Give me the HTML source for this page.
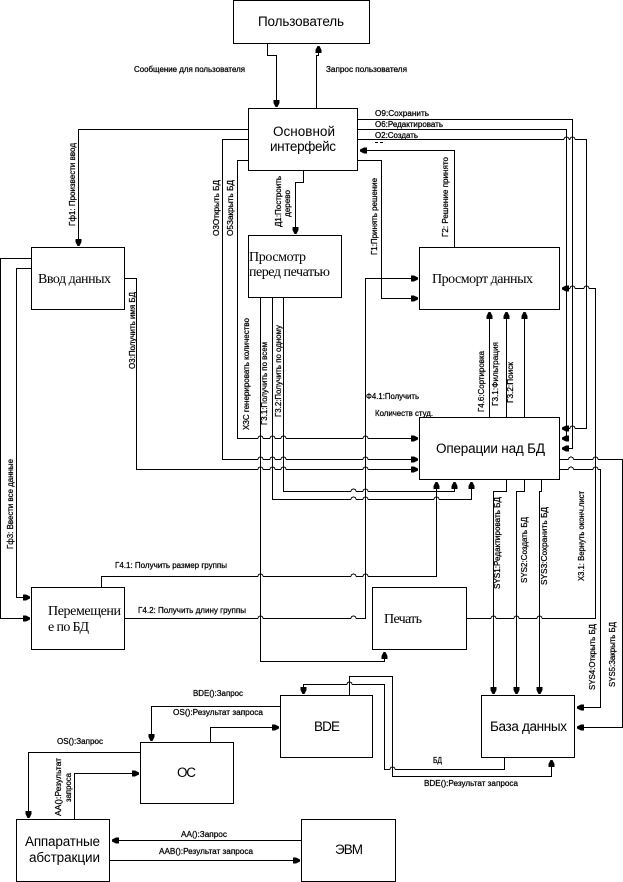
<!DOCTYPE html>
<html><head><meta charset="utf-8"><title>Диаграмма</title>
<style>
html,body{margin:0;padding:0;background:#fff}
svg{display:block}
.e{font:8px "Liberation Sans","DejaVu Sans",sans-serif;fill:#000;stroke:#000;stroke-width:.25}
.s{font:13.5px "Liberation Sans","DejaVu Sans",sans-serif;fill:#000}
.t{font:14px "Liberation Serif","DejaVu Serif",serif;fill:#000}
</style></head>
<body>
<svg xmlns="http://www.w3.org/2000/svg" width="623" height="882" viewBox="0 0 623 882">
<defs>
<path id="d" d="M-3 -7h6v3l-2 4h-2l-2-4z"/>
<path id="u" d="M-3 7h6v-3l-2-4h-2l-2 4z"/>
<path id="r" d="M-7 -3v6h3l4-2v-2l-4-2z"/>
<path id="l" d="M7 -3v6h-3l-4-2v-2l4-2z"/>
</defs>
<rect width="623" height="882" fill="#fff"/>

<!-- connectors -->
<g fill="none" stroke="#000" stroke-width="1" shape-rendering="crispEdges">
<path d="M267.5 43V55.5H276.5V101"/>
<path d="M316.5 108V55.5H318.5V50"/>
<path d="M248 129.5H78.5V240"/>
<path d="M248 139.5H222.5V459.5H257.5q3-5 6 0H269.5q3-5 6 0H280.5q3-5 6 0H362.5q3-5 6 0H413"/>
<path d="M248 160.5H237.5V438.5H257.5q3-5 6 0H269.5q3-5 6 0H280.5q3-5 6 0H362.5q3-5 6 0H413"/>
<path d="M124 278.5H136.5V469.5H257.5q3-5 6 0H269.5q3-5 6 0H280.5q3-5 6 0H362.5q3-5 6 0H413"/>
<path d="M303.5 170V182.5H295.5V228"/>
<path d="M357 119.5H572.5V448.5H563"/>
<path d="M357 129.5H566.5V438.5H563"/>
<path d="M357 139.5H563.5q3-5 6 0H569.5q3-5 6 0H586.5V428.5H575.5q-3-5-6 0H563"/>
<path d="M454.5 247V150.5H361"/>
<path d="M357 160.5H381.5V298.5H413"/>
<path d="M124 618.5H257.5q3-5 6 0H350.5q3-5 6 0H365.5V278.5H413"/>
<path d="M260.5 297V661.5H384.5V657"/>
<path d="M272.5 297V499.5H350.5q3-5 6 0H362.5q3-5 6 0H433.5q3-5 6 0H471.5V487"/>
<path d="M283.5 297V491.5H350.5q3-5 6 0H362.5q3-5 6 0H454.5V487"/>
<path d="M101.5 587V576.5H257.5q3-5 6 0H350.5q3-5 6 0H362.5q3-5 6 0H436.5V487"/>
<path d="M31 258.5H0.5V618.5H25"/>
<path d="M31 268.5H16.5V597.5H25"/>
<path d="M466 618.5H490.5q3-5 6 0H513.5q3-5 6 0H536.5q3-5 6 0H595.5V288.5H589.5q-3-5-6 0H575.5q-3-5-6 0H563"/>
<path d="M559 459.5H568q3-5 6 0H592.5q3-5 6 0H622.5V727.5H582"/>
<path d="M559 469.5H568q3-5 6 0H592.5q3-5 6 0H600.5V707.5H582"/>
<path d="M489.5 417V317"/><path d="M506.5 417V317"/><path d="M524.5 417V317"/>
<path d="M506.5 479V491.5H493.5V689"/>
<path d="M524.5 479V491.5H516.5V689"/>
<path d="M541.5 479V491.5H539.5V689"/>
<path d="M349.5 695V676.5H392.5V776.5H551.5V765"/>
<path d="M504.5 757V769.5H395.5q-3-5-6 0H384.5V684.5H352.5q-3-5-6 0H303.5V689"/>
<path d="M280 706.5H151.5V736"/>
<path d="M210.5 742V727.5H274"/>
<path d="M140 752.5H28.5V813"/>
<path d="M74.5 819V773.5H134"/>
<path d="M301 840.5H116"/>
<path d="M109 860.5H295"/>
<path d="M375 142.5h3M380 142.5h3"/>
</g>

<!-- arrowheads -->
<g fill="#000" stroke="none">
<use href="#d" x="276.5" y="107"/><use href="#d" x="78.5" y="246"/><use href="#d" x="295.5" y="234"/><use href="#d" x="493.5" y="694"/><use href="#d" x="516.5" y="694"/><use href="#d" x="539.5" y="694"/><use href="#d" x="303.5" y="694"/><use href="#d" x="151.5" y="741"/><use href="#d" x="28.5" y="818"/>
<use href="#u" x="318.5" y="46"/><use href="#u" x="489.5" y="312"/><use href="#u" x="506.5" y="312"/><use href="#u" x="524.5" y="312"/><use href="#u" x="436.5" y="482"/><use href="#u" x="454.5" y="482"/><use href="#u" x="471.5" y="482"/><use href="#u" x="384.5" y="652"/><use href="#u" x="551.5" y="760"/>
<use href="#r" x="418" y="278.5"/><use href="#r" x="418" y="298.5"/><use href="#r" x="418" y="438.5"/><use href="#r" x="418" y="459.5"/><use href="#r" x="418" y="469.5"/><use href="#r" x="30" y="597.5"/><use href="#r" x="30" y="618.5"/><use href="#r" x="279" y="727.5"/><use href="#r" x="139" y="773.5"/><use href="#r" x="300" y="860.5"/>
<use href="#l" x="360" y="150.5"/><use href="#l" x="562" y="288.5"/><use href="#l" x="562" y="428.5"/><use href="#l" x="562" y="438.5"/><use href="#l" x="562" y="448.5"/><use href="#l" x="577" y="707.5"/><use href="#l" x="577" y="727.5"/><use href="#l" x="112" y="840.5"/>
</g>

<!-- edge labels -->
<g class="lbl">
<text class="e" x="134" y="72" textLength="111" lengthAdjust="spacingAndGlyphs">Сообщение для пользователя</text>
<text class="e" x="326" y="72" textLength="81" lengthAdjust="spacingAndGlyphs">Запрос пользователя</text>
<text class="e" x="375" y="116" textLength="54" lengthAdjust="spacingAndGlyphs">О9:Сохранить</text>
<text class="e" x="375" y="127" textLength="68" lengthAdjust="spacingAndGlyphs">О6:Редактировать</text>
<text class="e" x="375" y="138" textLength="43" lengthAdjust="spacingAndGlyphs">О2:Создать</text>
<text class="e" x="366" y="399" textLength="53" lengthAdjust="spacingAndGlyphs">Ф4.1:Получить</text>
<text class="e" x="375" y="416" textLength="58" lengthAdjust="spacingAndGlyphs">Количеств студ.</text>
<text class="e" x="115" y="568" textLength="112" lengthAdjust="spacingAndGlyphs">Г4.1: Получить размер группы</text>
<text class="e" x="138" y="613" textLength="108" lengthAdjust="spacingAndGlyphs">Г4.2: Получить длину группы</text>
<text class="e" x="193" y="696" textLength="50" lengthAdjust="spacingAndGlyphs">BDE():Запрос</text>
<text class="e" x="173" y="715" textLength="90" lengthAdjust="spacingAndGlyphs">OS():Результат запроса</text>
<text class="e" x="57" y="744" textLength="46" lengthAdjust="spacingAndGlyphs">OS():Запрос</text>
<text class="e" x="181" y="837" textLength="46" lengthAdjust="spacingAndGlyphs">AA():Запрос</text>
<text class="e" x="159" y="854" textLength="94" lengthAdjust="spacingAndGlyphs">AAB():Результат запроса</text>
<text class="e" x="433" y="763" textLength="9" lengthAdjust="spacingAndGlyphs">БД</text>
<text class="e" x="424" y="786" textLength="94" lengthAdjust="spacingAndGlyphs">BDE():Результат запроса</text>

<text class="e" transform="translate(75 226) rotate(-90)" textLength="83" lengthAdjust="spacingAndGlyphs">Гф1: Произвести ввод</text>
<text class="e" transform="translate(219 236) rotate(-90)" textLength="56" lengthAdjust="spacingAndGlyphs">О3Открыть БД</text>
<text class="e" transform="translate(233 236) rotate(-90)" textLength="56" lengthAdjust="spacingAndGlyphs">О5Закрыть БД</text>
<text class="e" transform="translate(281 227) rotate(-90)" textLength="51" lengthAdjust="spacingAndGlyphs">Д1:Построить</text>
<text class="e" transform="translate(290 217) rotate(-90)" textLength="27" lengthAdjust="spacingAndGlyphs">дерево</text>
<text class="e" transform="translate(377 255) rotate(-90)" textLength="77" lengthAdjust="spacingAndGlyphs">Г1:Принять решение</text>
<text class="e" transform="translate(448 237) rotate(-90)" textLength="80" lengthAdjust="spacingAndGlyphs">Г2: Решение принято</text>
<text class="e" transform="translate(135 369) rotate(-90)" textLength="77" lengthAdjust="spacingAndGlyphs">О3:Получить имя БД</text>
<text class="e" transform="translate(249 430) rotate(-90)" textLength="112" lengthAdjust="spacingAndGlyphs">ХЗС генерировать количество</text>
<text class="e" transform="translate(267 425) rotate(-90)" textLength="83" lengthAdjust="spacingAndGlyphs">Г3.1:Получить по всем</text>
<text class="e" transform="translate(281 417) rotate(-90)" textLength="92" lengthAdjust="spacingAndGlyphs">Г3.2:Получить по одному</text>
<text class="e" transform="translate(484 412) rotate(-90)" textLength="61" lengthAdjust="spacingAndGlyphs">Г4.6:Сортировка</text>
<text class="e" transform="translate(498 406) rotate(-90)" textLength="64" lengthAdjust="spacingAndGlyphs">Г3.1:Фильтрация</text>
<text class="e" transform="translate(513 403) rotate(-90)" textLength="41" lengthAdjust="spacingAndGlyphs">Г3.2:Поиск</text>
<text class="e" transform="translate(500 589) rotate(-90)" textLength="92" lengthAdjust="spacingAndGlyphs">SYS1:Редактировать БД</text>
<text class="e" transform="translate(527 583) rotate(-90)" textLength="66" lengthAdjust="spacingAndGlyphs">SYS2:Создать БД</text>
<text class="e" transform="translate(547 585) rotate(-90)" textLength="78" lengthAdjust="spacingAndGlyphs">SYS3:Сохранить БД</text>
<text class="e" transform="translate(584 581) rotate(-90)" textLength="90" lengthAdjust="spacingAndGlyphs">Х3.1: Вернуть оконч.лист</text>
<text class="e" transform="translate(595 690) rotate(-90)" textLength="66" lengthAdjust="spacingAndGlyphs">SYS4:Открыть БД</text>
<text class="e" transform="translate(615 687) rotate(-90)" textLength="65" lengthAdjust="spacingAndGlyphs">SYS5:Закрыть БД</text>
<text class="e" transform="translate(13 549) rotate(-90)" textLength="90" lengthAdjust="spacingAndGlyphs">Гф3: Ввести все данные</text>
<text class="e" transform="translate(61 816) rotate(-90)" textLength="58" lengthAdjust="spacingAndGlyphs">AA():Результат</text>
<text class="e" transform="translate(71 802) rotate(-90)" textLength="29" lengthAdjust="spacingAndGlyphs">запроса</text>
</g>

<!-- boxes -->
<g fill="none" stroke="#000" stroke-width="1" shape-rendering="crispEdges">
<rect x="233.5" y="0.5" width="136" height="43"/>
<rect x="248.5" y="108.5" width="109" height="62"/>
<rect x="31.5" y="247.5" width="93" height="62"/>
<rect x="248.5" y="235.5" width="93" height="62"/>
<rect x="419.5" y="247.5" width="140" height="62"/>
<rect x="419.5" y="417.5" width="140" height="62"/>
<rect x="31.5" y="587.5" width="93" height="62"/>
<rect x="372.5" y="587.5" width="94" height="62"/>
<rect x="280.5" y="695.5" width="92" height="62"/>
<rect x="481.5" y="695.5" width="93" height="62"/>
<rect x="140.5" y="742.5" width="93" height="61"/>
<rect x="16.5" y="819.5" width="93" height="62"/>
<rect x="301.5" y="819.5" width="94" height="62"/>
</g>

<!-- box labels -->
<text class="s" x="258" y="26" textLength="86" lengthAdjust="spacing">Пользователь</text>
<text class="s" x="273" y="136" textLength="62" lengthAdjust="spacing">Основной</text>
<text class="s" x="270" y="151" textLength="66" lengthAdjust="spacing">интерфейс</text>
<text class="t" x="249" y="261" textLength="57" lengthAdjust="spacing">Просмотр</text>
<text class="t" x="249" y="276" textLength="81" lengthAdjust="spacing">перед печатью</text>
<text class="t" x="38" y="283" textLength="73" lengthAdjust="spacing">Ввод данных</text>
<text class="t" x="432" y="283" textLength="101" lengthAdjust="spacing">Просморт данных</text>
<text class="s" x="436" y="453" textLength="109" lengthAdjust="spacing">Операции над БД</text>
<text class="t" x="48" y="615" textLength="73" lengthAdjust="spacing">Перемещени</text>
<text class="t" x="48" y="631" textLength="41" lengthAdjust="spacing">е по БД</text>
<text class="t" x="384" y="623" textLength="38" lengthAdjust="spacing">Печать</text>
<text class="s" x="314" y="731" textLength="26" lengthAdjust="spacing">BDE</text>
<text class="s" x="490" y="731" textLength="77" lengthAdjust="spacing">База данных</text>
<text class="s" x="177" y="777" textLength="19" lengthAdjust="spacing">ОС</text>
<text class="s" x="25" y="846" textLength="75" lengthAdjust="spacing">Аппаратные</text>
<text class="s" x="29" y="862" textLength="71" lengthAdjust="spacing">абстракции</text>
<text class="s" x="335" y="854" textLength="28" lengthAdjust="spacing">ЭВМ</text>
</svg>
</body></html>
